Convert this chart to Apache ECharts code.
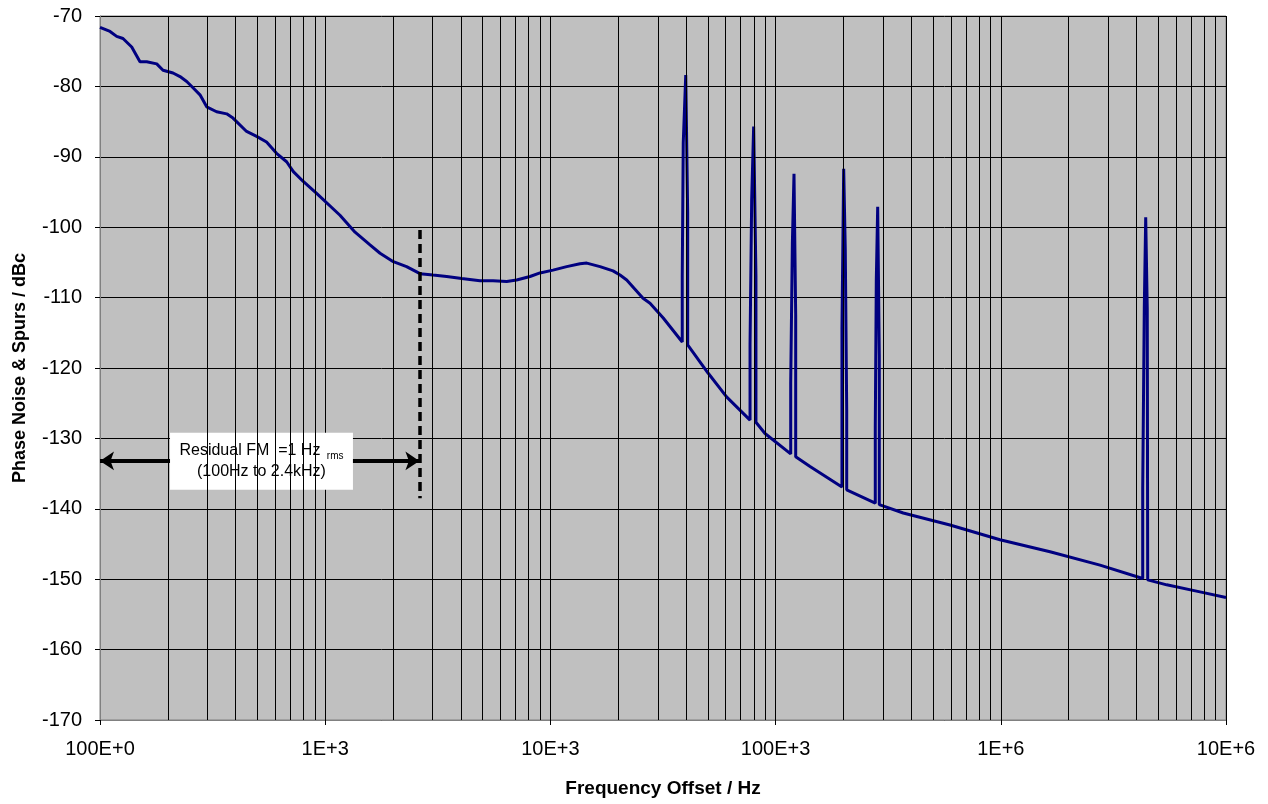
<!DOCTYPE html>
<html>
<head>
<meta charset="utf-8">
<script src="https://cdn.jsdelivr.net/npm/echarts@6/dist/echarts.min.js"></script>
<style>
  html, body { margin: 0; padding: 0; background: #fff; }
  #main { width: 1268px; height: 804px; }
</style>
</head>
<body>
<div id="main"></div>
<script>
// phase noise curve (baseline)
var noiseFreq = [100, 110.8, 118.6, 126.5, 138.3, 150.5, 161.2, 178.6, 190.5, 211, 226.6, 242.7,
  258.8, 278, 297.7, 329.5, 365.2, 389.5, 447.7, 496, 549, 608, 674, 722, 799, 916,
  1163, 1357, 1581, 1752, 2007, 2298, 2636, 3011, 3463, 4039, 4867, 5561, 6397, 7079,
  8121, 8991, 10270, 11810, 13530, 14500, 16610, 18970, 20380, 21820, 25780, 27690, 31700,
  50220, 60580, 89740, 142200, 368700, 594800, 991800, 1654000, 2758000,
  5453000, 7664000, 10000000];
var noiseDb = [-71.6, -72.2, -72.9, -73.2, -74.4, -76.5, -76.5, -76.8, -77.7, -78.1, -78.6, -79.3,
  -80.2, -81.2, -82.9, -83.6, -83.9, -84.5, -86.4, -87.1, -87.9, -89.5, -90.7, -92.1, -93.5, -95.2,
  -98.3, -100.7, -102.5, -103.7, -104.9, -105.6, -106.6, -106.8, -107.0, -107.3, -107.6, -107.6, -107.7, -107.5,
  -107.0, -106.5, -106.1, -105.6, -105.2, -105.1, -105.6, -106.2, -106.8, -107.5, -110.1, -110.8, -112.9,
  -120.75, -124.1, -129.3, -134.0, -140.6, -142.3, -144.4, -146.1, -148.0,
  -150.8, -151.8, -152.6];

// spurs: each one a short run of points
var spurFreq = [
  [38500, 38500, 38900, 39900, 40700, 40700],
  [77000, 77000, 78300, 79900, 81800, 81800],
  [116700, 116700, 118700, 120700, 122800, 122800],
  [197100, 197100, 200600, 203900, 206900, 206900],
  [277100, 277100, 280000, 284000, 288700, 288700],
  [4267000, 4267000, 4337000, 4400000, 4470000, 4491000]
];
var spurDb = [
  [-116.3, -107, -88, -78.4, -98, -116.7],
  [-127.4, -116.7, -96.1, -85.7, -107, -127.7],
  [-132.2, -122.2, -102.3, -92.4, -112.5, -132.6],
  [-136.9, -114.4, -91.7, -103.2, -126, -137.3],
  [-139.2, -128.3, -107.5, -97.1, -118.2, -139.4],
  [-149.9, -137.1, -111.5, -98.6, -111.5, -150.1]
];

var xTickLabels = ['100E+0', '1E+3', '10E+3', '100E+3', '1E+6', '10E+6'];
var minorMultipliers = [2, 3, 4, 5, 6, 7, 8, 9];
var decades = [100, 1000, 10000, 100000, 1000000];

// annotation
var markerFreq = 2620;
var markerDb = [-100.4, -138.5];
var arrowDb = -133.2;
var boxFreq = [204.6, 1328];
var boxDb = [-129.2, -137.3];

// merge noise + spurs in frequency order
var curve = [];
var s = 0;
for (var i = 0; i < noiseFreq.length; i++) {
  while (s < spurFreq.length && spurFreq[s][0] < noiseFreq[i]) {
    for (var k = 0; k < spurFreq[s].length; k++) curve.push([spurFreq[s][k], spurDb[s][k]]);
    s++;
  }
  curve.push([noiseFreq[i], noiseDb[i]]);
}

var minorLines = [];
decades.forEach(function (d) {
  minorMultipliers.forEach(function (m) { minorLines.push({ xAxis: d * m }); });
});

var font = '"Liberation Sans", Arial, sans-serif';
var chart = echarts.init(document.getElementById('main'));

chart.setOption({
  animation: false,
  backgroundColor: '#ffffff',
  grid: {
    left: 100, right: 42, top: 16, bottom: 84,
    show: true, backgroundColor: '#c0c0c0', borderColor: '#808080', borderWidth: 1
  },
  xAxis: {
    type: 'log', logBase: 10, min: 100, max: 10000000,
    name: 'Frequency Offset / Hz', nameLocation: 'middle', nameGap: 59,
    nameTextStyle: { fontFamily: font, fontWeight: 'bold', fontSize: 19, color: '#000' },
    axisLine: { lineStyle: { color: '#808080', width: 1 } },
    axisTick: { show: true, length: 5, lineStyle: { color: '#000' } },
    axisLabel: {
      margin: 19, fontFamily: font, fontSize: 20, color: '#000',
      formatter: function (v) { return xTickLabels[Math.round(Math.log10(v)) - 2]; }
    },
    splitLine: { show: true, lineStyle: { color: '#000', width: 1 } }
  },
  yAxis: {
    type: 'value', min: -170, max: -70, interval: 10,
    name: 'Phase Noise & Spurs / dBc', nameLocation: 'middle', nameGap: 71, nameRotate: 90,
    nameTextStyle: { fontFamily: font, fontWeight: 'bold', fontSize: 18, color: '#000' },
    axisLine: { show: true, lineStyle: { color: '#808080', width: 1 } },
    axisTick: { show: true, length: 5, lineStyle: { color: '#000' } },
    axisLabel: { margin: 18, fontFamily: font, fontSize: 20, color: '#000' },
    splitLine: { show: true, lineStyle: { color: '#000', width: 1 } }
  },
  series: [
    {
      // minor log grid lines
      type: 'line', data: [], z: 1, silent: true,
      markLine: {
        silent: true, symbol: ['none', 'none'], label: { show: false },
        lineStyle: { color: '#000', width: 1, type: 'solid' },
        data: minorLines
      }
    },
    {
      name: 'phase noise',
      type: 'line', data: curve, z: 3,
      showSymbol: false, symbol: 'none',
      lineStyle: { color: '#000080', width: 3 }
    },
    {
      // residual FM annotation
      type: 'line', data: [], z: 4, silent: true,
      markArea: {
        silent: true,
        itemStyle: { color: '#ffffff' },
        label: {
          position: 'inside', fontFamily: font, color: '#000', lineHeight: 21,
          formatter: '{a|Residual FM  =1 Hz }{s|rms}\n{a|(100Hz to 2.4kHz)}',
          rich: {
            a: { fontFamily: font, fontSize: 16, color: '#000', lineHeight: 21 },
            s: { fontFamily: font, fontSize: 10, color: '#000', verticalAlign: 'bottom', padding: [8, 0, 0, 2] }
          }
        },
        data: [[{ coord: [boxFreq[0], boxDb[0]] }, { coord: [boxFreq[1], boxDb[1]] }]]
      },
      markLine: {
        silent: true, label: { show: false }, symbolSize: [14, 14],
        lineStyle: { color: '#000', width: 4, type: 'solid' },
        data: [
          [{ coord: [100, arrowDb], symbol: 'arrow' }, { coord: [boxFreq[0], arrowDb], symbol: 'none' }],
          [{ coord: [boxFreq[1], arrowDb], symbol: 'none' }, { coord: [markerFreq, arrowDb], symbol: 'arrow' }],
          [{ coord: [markerFreq, markerDb[0]], symbol: 'none',
             lineStyle: { type: [9, 5], width: 3.5 } },
           { coord: [markerFreq, markerDb[1]], symbol: 'none' }]
        ]
      }
    }
  ]
});
</script>
</body>
</html>
